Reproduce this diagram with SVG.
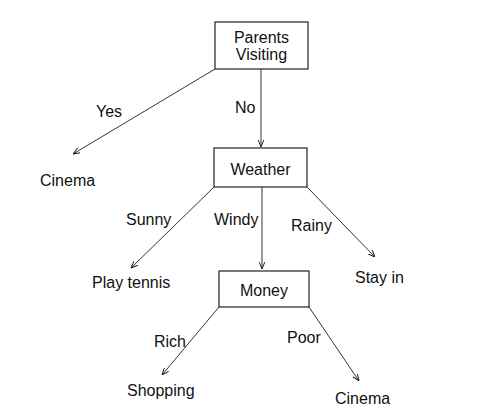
<svg xmlns="http://www.w3.org/2000/svg" width="480" height="418" viewBox="0 0 480 418">
<defs>
<marker id="ah" viewBox="0 0 10 10" refX="10" refY="5" markerWidth="7" markerHeight="7" orient="auto" markerUnits="userSpaceOnUse">
<path d="M0,1 L10,5 L0,9" fill="none" stroke="#222" stroke-width="1.4"/>
</marker>
<style>
.box{fill:#fff;stroke:#222;stroke-width:1.2}
.t{font-family:"Liberation Sans",Arial,sans-serif;font-size:16px;fill:#111}
.m{text-anchor:middle}
.e{fill:none;stroke:#333;stroke-width:1;marker-end:url(#ah)}
</style>
</defs>
<rect width="480" height="418" fill="#fff"/>
<g id="connectors">
<line class="e" x1="215" y1="69" x2="73" y2="154"/>
<line class="e" x1="261" y1="69" x2="261" y2="147"/>
<line class="e" x1="214" y1="187" x2="131" y2="268"/>
<line class="e" x1="262" y1="187" x2="262" y2="269"/>
<line class="e" x1="307" y1="187" x2="375" y2="257"/>
<line class="e" x1="219" y1="307" x2="162" y2="375"/>
<line class="e" x1="309" y1="307" x2="359" y2="381"/>
<text class="t" x="96" y="117">Yes</text>
<text class="t" x="235" y="113">No</text>
<text class="t" x="126" y="225">Sunny</text>
<text class="t" x="214" y="225">Windy</text>
<text class="t" x="291" y="231">Rainy</text>
<text class="t" x="154" y="347">Rich</text>
<text class="t" x="287" y="343">Poor</text>
</g>
<g id="parents">
<rect class="box" x="215" y="22" width="93" height="47"/>
<text class="t m" x="261.5" y="43">Parents</text>
<text class="t m" x="261.5" y="60">Visiting</text>
</g>
<g id="weather">
<rect class="box" x="214" y="148" width="93" height="39"/>
<text class="t m" x="260.5" y="175">Weather</text>
</g>
<g id="money">
<rect class="box" x="219" y="271" width="90" height="36"/>
<text class="t m" x="264" y="296">Money</text>
</g>
<g id="cinema1"><text class="t" x="40" y="186">Cinema</text></g>
<g id="playtennis"><text class="t" x="92" y="288">Play tennis</text></g>
<g id="stayin"><text class="t" x="355" y="283">Stay in</text></g>
<g id="shopping"><text class="t" x="127" y="396">Shopping</text></g>
<g id="cinema2"><text class="t" x="335" y="404">Cinema</text></g>
</svg>
